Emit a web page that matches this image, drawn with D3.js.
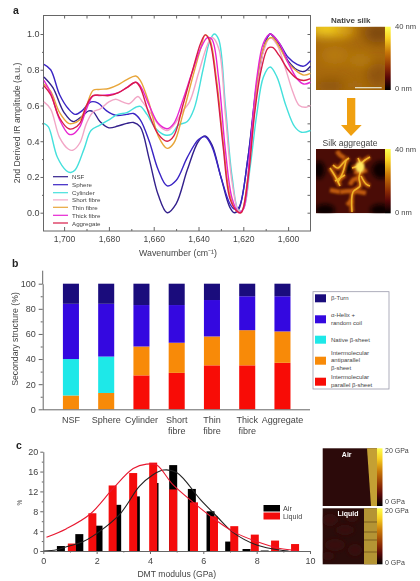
<!DOCTYPE html>
<html><head><meta charset="utf-8">
<style>html,body{margin:0;padding:0;background:#fff}svg{display:block;filter:blur(0.45px)}text{font-family:"Liberation Sans",Arial,sans-serif;fill:#444}</style>
<script src="https://cdn.jsdelivr.net/npm/d3@7"></script></head><body><svg id="c" width="420" height="581"></svg>
<script>
const seriesNames=["NSF","Sphere","Cylinder","Short fibre","Thin fibre","Thick fibre","Aggregate"];
const seriesColors=["#33208c","#3a24c4","#45e0dc","#f2a6c6","#e8a63a","#e626d2","#d81c48"];
const wnNSF=[[1709,.76],[1705,.70],[1700,.56],[1696,.51],[1692,.54],[1689,.57],[1687,.565],[1684,.51],[1680,.475],[1676,.485],[1672,.50],[1669,.505],[1666,.48],[1662,.30],[1658,.10],[1654,0],[1650,.05],[1645,.24],[1640,.40],[1637,.43],[1634,.38],[1630,.2],[1626,.03],[1624,0],[1622,.02],[1618,.3],[1614,.72],[1610,.96],[1608,1],[1604,.94],[1600,.85],[1596,.80],[1593,.79],[1590,.82]];
const wnSphere=[[1709,.83],[1706,.80],[1702,.66],[1698,.58],[1695,.55],[1692,.57],[1688,.62],[1685,.615],[1681,.57],[1677,.545],[1672,.55],[1669,.555],[1666,.52],[1662,.40],[1658,.24],[1654,.15],[1650,.18],[1645,.31],[1640,.41],[1637,.425],[1634,.37],[1630,.2],[1626,.05],[1624,.02],[1622,.03],[1618,.3],[1614,.7],[1610,.96],[1608,1],[1604,.95],[1600,.87],[1596,.83],[1593,.82],[1590,.85]];
const wnCylinder=[[1709,.50],[1707,.48],[1703,.31],[1699,.235],[1697,.225],[1695,.24],[1691,.36],[1688,.46],[1684,.49],[1680,.52],[1676,.55],[1672,.56],[1668,.59],[1666,.595],[1663,.55],[1659,.47],[1655,.435],[1652,.44],[1649,.49],[1645,.51],[1642,.58],[1638,.80],[1635,.96],[1633,1],[1631,.97],[1628,.6],[1625,.2],[1622,.01],[1620,.02],[1617,.25],[1614,.55],[1611,.76],[1608,.815],[1605,.76],[1601,.6],[1597,.48],[1594,.45],[1590,.46]];
const wnShort=[[1709,.62],[1706,.58],[1702,.42],[1698,.355],[1696,.35],[1693,.39],[1690,.5],[1687,.565],[1684,.58],[1680,.62],[1677,.635],[1674,.62],[1671,.61],[1667,.65],[1665,.62],[1661,.55],[1657,.48],[1654,.46],[1651,.49],[1647,.57],[1644,.62],[1640,.78],[1636,.94],[1634,.98],[1631,.92],[1628,.55],[1625,.17],[1622,.01],[1620,.02],[1617,.3],[1614,.68],[1611,.9],[1608,.98],[1605,.94],[1601,.8],[1598,.68],[1595,.6],[1592,.59],[1590,.6]];
const wnThin=[[1709,.72],[1706,.68],[1702,.56],[1698,.5],[1696,.5],[1693,.52],[1690,.6],[1687,.685],[1684,.69],[1680,.695],[1676,.715],[1672,.745],[1668,.765],[1666,.74],[1662,.61],[1658,.43],[1654,.36],[1651,.39],[1647,.55],[1643,.74],[1639,.92],[1637,.995],[1635,.97],[1632,.75],[1629,.4],[1626,.1],[1623,.01],[1621,0],[1618,.2],[1615,.6],[1612,.88],[1609,.97],[1607,.98],[1604,.93],[1600,.84],[1596,.79],[1593,.77],[1590,.78]];
const wnThick=[[1709,.74],[1706,.67],[1702,.52],[1698,.44],[1696,.44],[1693,.48],[1690,.58],[1687,.655],[1684,.655],[1680,.66],[1676,.67],[1672,.7],[1668,.73],[1666,.71],[1662,.6],[1658,.5],[1654,.47],[1651,.5],[1647,.63],[1643,.78],[1639,.92],[1636,.98],[1634,.97],[1631,.75],[1628,.35],[1625,.08],[1622,0],[1620,.02],[1617,.35],[1614,.75],[1611,.95],[1608,1],[1604,.95],[1600,.84],[1596,.75],[1593,.72],[1590,.73]];
const wnAggregate=[[1709,.71],[1706,.66],[1702,.53],[1698,.47],[1696,.47],[1693,.5],[1690,.6],[1687,.655],[1680,.655],[1676,.67],[1672,.7],[1668,.73],[1666,.7],[1662,.55],[1658,.44],[1654,.40],[1651,.43],[1647,.6],[1643,.78],[1639,.95],[1637,.995],[1635,.96],[1632,.72],[1629,.37],[1626,.08],[1623,.01],[1621,0],[1618,.18],[1615,.55],[1612,.8],[1609,.92],[1607,.925],[1604,.88],[1600,.8],[1596,.75],[1593,.74],[1590,.75]];
const irCurves=[wnNSF,wnSphere,wnCylinder,wnShort,wnThin,wnThick,wnAggregate];

const barCats=[["NSF"],["Sphere"],["Cylinder"],["Short","fibre"],["Thin","fibre"],["Thick","fibre"],["Aggregate"]];
const structNames=["parallel","antiparallel","native","helix","turn"];
const structColors=["#f80c06","#f88a08","#1ee8e8","#3408e0","#1a0c7c"];
const parallel=[0,0,27,29,35,35,37];
const antiparallel=[11,13,23,24,23,28,25];
const nativeSheet=[29,29,0,0,0,0,0];
const helix=[44,42,33,30,29,27,28];
const turn=[16,16,17,17,13,10,10];
const structValues=[parallel,antiparallel,nativeSheet,helix,turn];
const structLegend=[["β-Turn"],["α-Helix +","random coil"],["Native β-sheet"],["Intermolecular","antiparallel","β-sheet"],["Intermolecular","parallel β-sheet"]];

const airX=[.66,1.35,2.07,2.77,3.47,4.17,4.87,5.57,6.27,6.97,7.62,8.3];
const airPct=[1,3.4,5.1,9.3,11,13.7,17.3,12.5,8,1.9,.4,.1];
const liquidX=[1.07,1.84,2.6,3.37,4.12,4.87,5.65,6.4,7.16,7.93,8.69,9.44];
const liquidPct=[1.5,7.6,13.2,15.7,17.8,12.4,9.8,7,5,3.3,2.1,1.4];
const airFit=[[0,0],[.5,.25],[.9,.9],[1.5,1.9],[2.1,3.9],[2.9,7.6],[3.6,13],[4.1,15.3],[4.5,16.3],[5,15.8],[5.9,10.3],[6.5,7],[7.1,3.8],[8,1.2],[9,.1],[9.2,0]];
const liquidFit=[[.12,2.75],[.87,4.5],[1.75,7.4],[2.62,12.6],[3.37,16.6],[3.87,17.5],[4.25,17.3],[4.87,13.3],[5.62,9.8],[6.37,6.6],[7.12,3.9],[8,1.9],[8.87,.5],[9.5,.1]];

const svg=d3.select("#c");
const axisColor="#666";
function styleAxis(g,fs){g.selectAll("path,line").attr("stroke",axisColor).attr("stroke-width",1);
 g.selectAll("text").attr("font-size",fs).style("fill","#444");}
function label(t,x,y,fs,o={}){return svg.append("text").text(t).attr("x",x).attr("y",y).attr("font-size",fs)
 .attr("text-anchor",o.anchor||"start").attr("dominant-baseline","central").attr("font-weight",o.weight||"normal").style("fill",o.fill||"#444");}
const defs=svg.append("defs");

// panel a
const xA=d3.scaleLinear().domain([1709.2,1590]).range([43.5,310.5]);
const yA=d3.scaleLinear().domain([0,1]).range([212.7,34]);
const aTop=15.5,aBot=231;
const gA=svg.append("g");
gA.append("rect").attr("x",43.5).attr("y",aTop).attr("width",267).attr("height",aBot-aTop).attr("fill","none").attr("stroke",axisColor);
const axB=gA.append("g").attr("transform",`translate(0,${aBot})`).call(d3.axisBottom(xA).tickValues([1700,1680,1660,1640,1620,1600]).tickSize(-4).tickPadding(5).tickFormat(d3.format(",")));
axB.select(".domain").remove();styleAxis(axB,8.6);
const axBm=gA.append("g").attr("transform",`translate(0,${aBot})`).call(d3.axisBottom(xA).tickValues([1690,1670,1650,1630,1610]).tickSize(-2).tickFormat(""));axBm.select(".domain").remove();styleAxis(axBm,8);
const axT=gA.append("g").attr("transform",`translate(0,${aTop})`).call(d3.axisTop(xA).tickValues(d3.range(1600,1701,10)).tickSize(-3).tickFormat(""));axT.select(".domain").remove();styleAxis(axT,8);
const axL=gA.append("g").attr("transform","translate(43.5,0)").call(d3.axisLeft(yA).tickValues([0,.2,.4,.6,.8,1]).tickSize(3).tickPadding(1).tickFormat(d3.format(".1f")));
axL.select(".domain").remove();styleAxis(axL,9);
const axLm=gA.append("g").attr("transform","translate(43.5,0)").call(d3.axisLeft(yA).tickValues([.1,.3,.5,.7,.9]).tickSize(1.5).tickFormat(""));axLm.select(".domain").remove();styleAxis(axLm,8);
const axR=gA.append("g").attr("transform","translate(310.5,0)").call(d3.axisRight(yA).tickValues(d3.range(0,11).map(d=>d/10)).tickSize(-3).tickFormat(""));axR.select(".domain").remove();styleAxis(axR,8);
const lineA=d3.line().x(d=>xA(d[0])).y(d=>yA(d[1])).curve(d3.curveCatmullRom.alpha(.5));
gA.selectAll("path.ir").data(irCurves).join("path").attr("class","ir").attr("d",lineA).attr("fill","none").attr("stroke-width",1.4).attr("stroke",(d,i)=>seriesColors[i]);
const legYA=[176.7,184.7,192.7,199.9,207.3,215.3,223];
seriesNames.forEach((n,i)=>{gA.append("line").attr("x1",53).attr("x2",68).attr("y1",legYA[i]).attr("y2",legYA[i]).attr("stroke",seriesColors[i]).attr("stroke-width",1.2);
 label(n,72,legYA[i],6.2);});
label("a",13,9.5,10.5,{weight:"bold",fill:"#222"});
label("Wavenumber (cm⁻¹)",178,253,8.8,{anchor:"middle"});
svg.append("text").text("2nd Derived IR amplitude (a.u.)").attr("transform","translate(17,123) rotate(-90)").attr("text-anchor","middle").attr("dominant-baseline","central").attr("font-size",8.7).style("fill","#444");

// panel b
const xB=d3.scaleBand().domain(barCats.map(d=>d.join(" "))).range([43.7,309.7]).padding(.545);
const yB=d3.scaleLinear().domain([0,100]).range([409.3,283.7]);
const gB=svg.append("g");
const stackB=d3.stack().keys(structNames.map((_,i)=>i)).value((d,k)=>structValues[k][d])(d3.range(barCats.length));
stackB.forEach((lay,k)=>{gB.selectAll("rect.s"+k).data(lay).join("rect").attr("class","s"+k)
 .attr("x",(d,i)=>xB(barCats[i].join(" "))).attr("width",xB.bandwidth())
 .attr("y",d=>yB(d[1])).attr("height",d=>yB(d[0])-yB(d[1])).attr("fill",structColors[k]);});
const bL=gB.append("g").attr("transform","translate(42.7,0)").call(d3.axisLeft(yB).tickValues([0,20,40,60,80,100]).tickSize(4).tickPadding(3).tickSizeOuter(0));styleAxis(bL,9);
const bLm=gB.append("g").attr("transform","translate(42.7,0)").call(d3.axisLeft(yB).tickValues([10,30,50,70,90]).tickSize(2).tickFormat(""));bLm.select(".domain").remove();styleAxis(bLm,8);
gB.append("line").attr("x1",42.7).attr("x2",42.7).attr("y1",270.7).attr("y2",284).attr("stroke",axisColor);
gB.append("line").attr("x1",42.7).attr("x2",310).attr("y1",409.8).attr("y2",409.8).attr("stroke",axisColor);
barCats.forEach(c=>{const cx=xB(c.join(" "))+xB.bandwidth()/2;c.forEach((t,j)=>label(t,cx,420+j*11,9,{anchor:"middle"}));});
label("b",12,263,10.5,{weight:"bold",fill:"#222"});
svg.append("text").text("Secondary structure (%)").attr("transform","translate(15,339) rotate(-90)").attr("text-anchor","middle").attr("dominant-baseline","central").attr("font-size",8.7).style("fill","#444");
svg.append("rect").attr("x",313).attr("y",291.7).attr("width",76).attr("height",97.3).attr("fill","#fff").attr("stroke","#99a").attr("stroke-width",.8);
const swY=[298.3,319.3,339.7,360.7,381.7];
const textY=[[298.3],[315.3,323.3],[339.7],[352.7,360.3,368],[377.3,385]];
[4,3,2,1,0].forEach((k,i)=>{svg.append("rect").attr("x",315).attr("y",swY[i]-4).attr("width",11).attr("height",8).attr("fill",structColors[k]);
 structLegend[i].forEach((t,j)=>label(t,331,textY[i][j],6));});

// panel c
const xC=d3.scaleLinear().domain([0,10]).range([43.3,310]);
const yC=d3.scaleLinear().domain([0,20]).range([551,451.7]);
const barW=xC(.3)-xC(0);
const gC=svg.append("g");
gC.selectAll("rect.air").data(airX).join("rect").attr("class","air").attr("x",d=>xC(d)-barW/2).attr("width",barW).attr("y",(d,i)=>yC(airPct[i])).attr("height",(d,i)=>yC(0)-yC(airPct[i])).attr("fill","#000");
gC.selectAll("rect.liq").data(liquidX).join("rect").attr("class","liq").attr("x",d=>xC(d)-barW/2).attr("width",barW).attr("y",(d,i)=>yC(liquidPct[i])).attr("height",(d,i)=>yC(0)-yC(liquidPct[i])).attr("fill","#f40c0c");
const lineC=d3.line().x(d=>xC(d[0])).y(d=>yC(d[1])).curve(d3.curveCatmullRom.alpha(.5));
gC.append("path").attr("d",lineC(airFit)).attr("fill","none").attr("stroke","#222").attr("stroke-width",1.1);
gC.append("path").attr("d",lineC(liquidFit)).attr("fill","none").attr("stroke","#e81830").attr("stroke-width",1.1);
const cB=gC.append("g").attr("transform","translate(0,551)").call(d3.axisBottom(xC).tickValues([0,2,4,6,8,10]).tickSize(3).tickPadding(4).tickSizeOuter(0));styleAxis(cB,9);
const cBm=gC.append("g").attr("transform","translate(0,551)").call(d3.axisBottom(xC).tickValues([1,3,5,7,9]).tickSize(1.5).tickFormat(""));cBm.select(".domain").remove();styleAxis(cBm,8);
const cL=gC.append("g").attr("transform","translate(43.3,0)").call(d3.axisLeft(yC).tickValues([0,4,8,12,16,20]).tickSize(3).tickPadding(2).tickSizeOuter(0));styleAxis(cL,9);
const cLm=gC.append("g").attr("transform","translate(43.3,0)").call(d3.axisLeft(yC).tickValues([2,6,10,14,18]).tickSize(1.5).tickFormat(""));cLm.select(".domain").remove();styleAxis(cLm,8);
label("c",16,445,10.5,{weight:"bold",fill:"#222"});
label("DMT modulus (GPa)",176.7,574,8.6,{anchor:"middle"});
svg.append("text").text("%").attr("transform","translate(19,502.7) rotate(-90)").attr("text-anchor","middle").attr("dominant-baseline","central").attr("font-size",6.5).style("fill","#444");
svg.append("rect").attr("x",263.5).attr("y",505).attr("width",16.5).attr("height",6.5).attr("fill","#000");
svg.append("rect").attr("x",263.5).attr("y",512.5).attr("width",16.5).attr("height",7).attr("fill","#f40c0c");
label("Air",283,508,7.2);label("Liquid",283,516,7.2);

// AFM images (illustrations, not data)
const blurF=(id,s)=>defs.append("filter").attr("id",id).attr("filterUnits","userSpaceOnUse").attr("x",0).attr("y",0).attr("width",420).attr("height",581).append("feGaussianBlur").attr("stdDeviation",s);
blurF("b1",1);blurF("b2",2);blurF("b5",6);blurF("b03",.7);
const afmStops=[[0,"#ffff50"],[.18,"#f8d020"],[.4,"#c87808"],[.65,"#8c2c04"],[.8,"#5a0808"],[1,"#000"]];
function colorbar(id,x,y,w,h){const g=defs.append("linearGradient").attr("id",id).attr("x1",0).attr("x2",0).attr("y1",0).attr("y2",1);
 afmStops.forEach(s=>g.append("stop").attr("offset",s[0]).attr("stop-color",s[1]));
 svg.append("rect").attr("x",x).attr("y",y).attr("width",w).attr("height",h).attr("fill",`url(#${id})`);}
function clip(id,x,y,w,h){defs.append("clipPath").attr("id",id).append("rect").attr("x",x).attr("y",y).attr("width",w).attr("height",h);}
// native silk
clip("cn",316,26.7,69,63.3);
const gn=svg.append("g").attr("clip-path","url(#cn)");
gn.append("rect").attr("x",316).attr("y",26.7).attr("width",69).attr("height",63.3).attr("fill","#a8690c");
const nativeBlobs=[[328,28,20,9,"#f4d020"],[345,30,10,6,"#d8a010"],[378,33,14,10,"#7c4608"],[335,55,14,9,"#b87c10"],[378,75,12,12,"#8e5208"],[330,86,16,6,"#8a5208"],[360,60,12,6,"#b88010"],[355,85,10,5,"#a46a0c"]];
gn.selectAll("ellipse").data(nativeBlobs).join("ellipse").attr("cx",d=>d[0]).attr("cy",d=>d[1]).attr("rx",d=>d[2]).attr("ry",d=>d[3]).attr("fill",d=>d[4]).attr("filter","url(#b5)");
svg.append("line").attr("x1",355).attr("x2",381.7).attr("y1",87.7).attr("y2",87.7).attr("stroke","#e8e8d8").attr("stroke-width",1.2);
colorbar("cb1",385,26.7,5.7,63.3);
label("Native silk",350.7,20.3,8,{anchor:"middle",weight:"bold"});
label("40 nm",395,26.7,7.6);label("0 nm",395,88.3,7.6);
// arrow
svg.append("path").attr("d",d3.line()([[347,98],[355.3,98],[355.3,125],[361.7,125],[351,136],[341,125],[347,125]])+"Z").attr("fill","#f0a010");
// aggregate
clip("ca",316,149,69,64.3);
const ga=svg.append("g").attr("clip-path","url(#ca)");
ga.append("rect").attr("x",316).attr("y",149).attr("width",69).attr("height",64.3).attr("fill","#4a0c06");
const darkBlobs=[[319,170,6,9],[381,170,9,9],[348,168,5,5],[325,210,10,6],[380,210,10,6]];
ga.selectAll("ellipse.d").data(darkBlobs).join("ellipse").attr("class","d").attr("cx",d=>d[0]).attr("cy",d=>d[1]).attr("rx",d=>d[2]).attr("ry",d=>d[3]).attr("fill","#0a0000").attr("filter","url(#b2)");
const branches=[[[333,165],[338,168],[344,162],[349,158]],[[330,168],[335,176],[340,186]],[[346,160],[343,172],[338,182]],[[345,175],[340,178],[335,181]],[[358,158],[361,167],[359,178],[360,186],[353,192],[352,212]],[[352,168],[358,166],[365,160],[370,157]],[[361,176],[366,184],[370,186]],[[340,192],[352,191],[366,193]],[[345,158],[340,155],[337,151]],[[359,178],[353,180],[350,185]],[[354,172],[360,172],[367,170]],[[352,200],[347,205]],[[330,190],[340,192]]];
const bLine=d3.line().curve(d3.curveCatmullRom);
ga.selectAll("path.glow").data(branches).join("path").attr("class","glow").attr("d",d=>bLine(d)).attr("fill","none").attr("stroke","#c05a08").attr("stroke-width",4.5).attr("filter","url(#b1)");
ga.selectAll("path.core").data(branches.slice(0,7)).join("path").attr("class","core").attr("d",d=>bLine(d)).attr("fill","none").attr("stroke","#f0b428").attr("stroke-width",1.6).attr("filter","url(#b03)");
ga.append("ellipse").attr("cx",360).attr("cy",167).attr("rx",4.5).attr("ry",5.5).attr("fill","#ffe860").attr("filter","url(#b1)");
colorbar("cb2",385,149,5.7,64.3);
label("Silk aggregate",350,143,8.6,{anchor:"middle"});
label("40 nm",395,149.3,7.6);label("0 nm",395,212.3,7.6);
// modulus images
svg.append("rect").attr("x",322.7).attr("y",448.3).attr("width",54.3).attr("height",57.7).attr("fill","#2c0a0a");
svg.append("path").attr("d",d3.line()([[367,448.3],[377,448.3],[377,506],[371,506]])+"Z").attr("fill","#c4a034");
colorbar("cb3",377,448.3,5.5,57.7);
svg.append("rect").attr("x",322.7).attr("y",508.3).attr("width",54.3).attr("height",56).attr("fill","#2a0c0a");
clip("cl",322.7,508.3,41.3,56);
const patches=[[330,520,8,6],[345,530,9,5],[335,545,10,6],[355,550,7,6],[352,518,6,4],[328,556,6,4]];
svg.append("g").attr("clip-path","url(#cl)").selectAll("ellipse.p").data(patches).join("ellipse").attr("class","p").attr("cx",d=>d[0]).attr("cy",d=>d[1]).attr("rx",d=>d[2]).attr("ry",d=>d[3]).attr("fill","#38100c").attr("filter","url(#b2)");
svg.append("rect").attr("x",364).attr("y",508.3).attr("width",13).attr("height",56).attr("fill","#b49434");
const stripBands=[522,532,540,552];
svg.selectAll("line.band").data(stripBands).join("line").attr("class","band").attr("x1",364).attr("x2",377).attr("y1",d=>d).attr("y2",d=>d).attr("stroke","#7a5c1c").attr("stroke-width",1);
colorbar("cb4",377,508.3,5.5,56);
label("Air",346.7,454,7,{anchor:"middle",weight:"bold",fill:"#fff"});
label("Liquid",348,513.5,7,{anchor:"middle",weight:"bold",fill:"#fff"});
label("20 GPa",385,450.7,7);label("0 GPa",385,501.3,7);label("20 GPa",385,510.5,7);label("0 GPa",385,562.7,7);
</script></body></html>
